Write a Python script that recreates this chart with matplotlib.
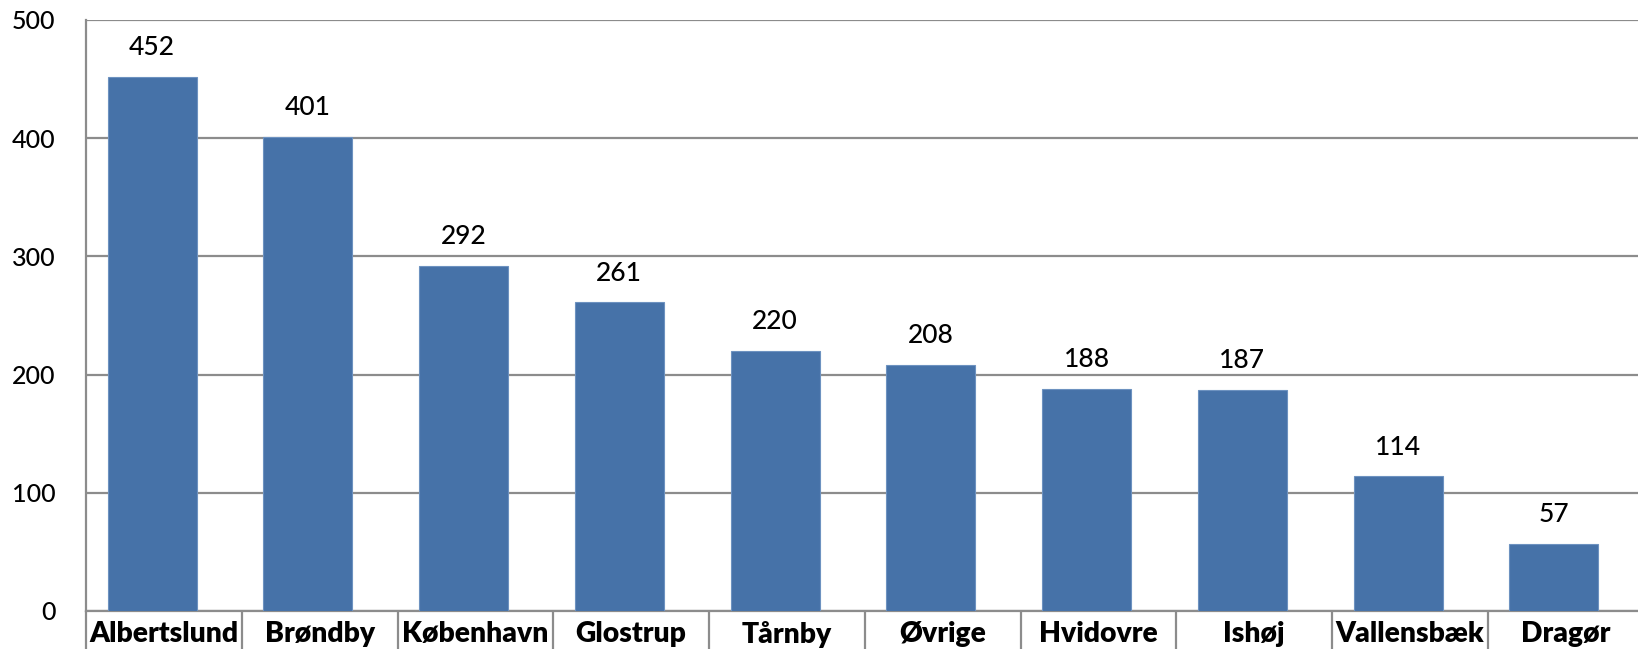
import numpy as np
import matplotlib
matplotlib.use("Agg")
import matplotlib.pyplot as plt

kommuner = ["Albertslund", "Brøndby", "København", "Glostrup", "Tårnby",
            "Øvrige", "Hvidovre", "Ishøj", "Vallensbæk", "Dragør"]
antal = [452, 401, 292, 261, 220, 208, 188, 187, 114, 57]
yticks = [0, 100, 200, 300, 400, 500]

plt.rcParams['font.family'] = ['Lato', 'DejaVu Sans']

fig = plt.figure(figsize=(16.38, 6.49), dpi=100)
# plot area runs a little past the right edge of the figure, as in the original
ax = fig.add_axes([0.0525, 0.0586, 0.9509, 0.9106])

x = np.arange(len(kommuner))
xb = x - 0.076  # bars sit slightly left of the category centre
ax.bar(xb, antal, width=0.571, color="#4672a8", edgecolor="#6d92c0",
       linewidth=0.8, zorder=3)

for xi, v in zip(xb, antal):
    ax.annotate(str(v), (xi, v), xytext=(0, 21), textcoords="offset points",
                ha="center", va="center", fontsize=19, fontweight="medium",
                color="black")

ax.set_xlim(-0.5, len(kommuner) - 0.5)
ax.set_ylim(0, 500)
ax.set_yticks(yticks)
ax.set_yticklabels([str(t) for t in yticks], fontsize=18, fontweight="medium")
ax.tick_params(axis="y", length=0, pad=22)

ax.yaxis.grid(True, color="#8c8c8c", linewidth=1.6, zorder=0)
ax.set_axisbelow(True)

# category labels as major ticks (no marks), separators as minor ticks
ax.set_xticks(x)
ax.set_xticklabels(kommuner, fontsize=20.3, fontweight="heavy")
ax.tick_params(axis="x", which="major", length=0, pad=7)
ax.set_xticks(np.arange(-0.5, len(kommuner), 1.0), minor=True)
ax.tick_params(axis="x", which="minor", length=30, width=1.6, color="#8c8c8c",
               direction="out")

for s in ["top", "right"]:
    ax.spines[s].set_visible(False)
ax.spines["left"].set_color("#8c8c8c")
ax.spines["left"].set_linewidth(1.6)
ax.spines["bottom"].set_color("#8c8c8c")
ax.spines["bottom"].set_linewidth(1.6)

fig.savefig("out.png", dpi=100)
